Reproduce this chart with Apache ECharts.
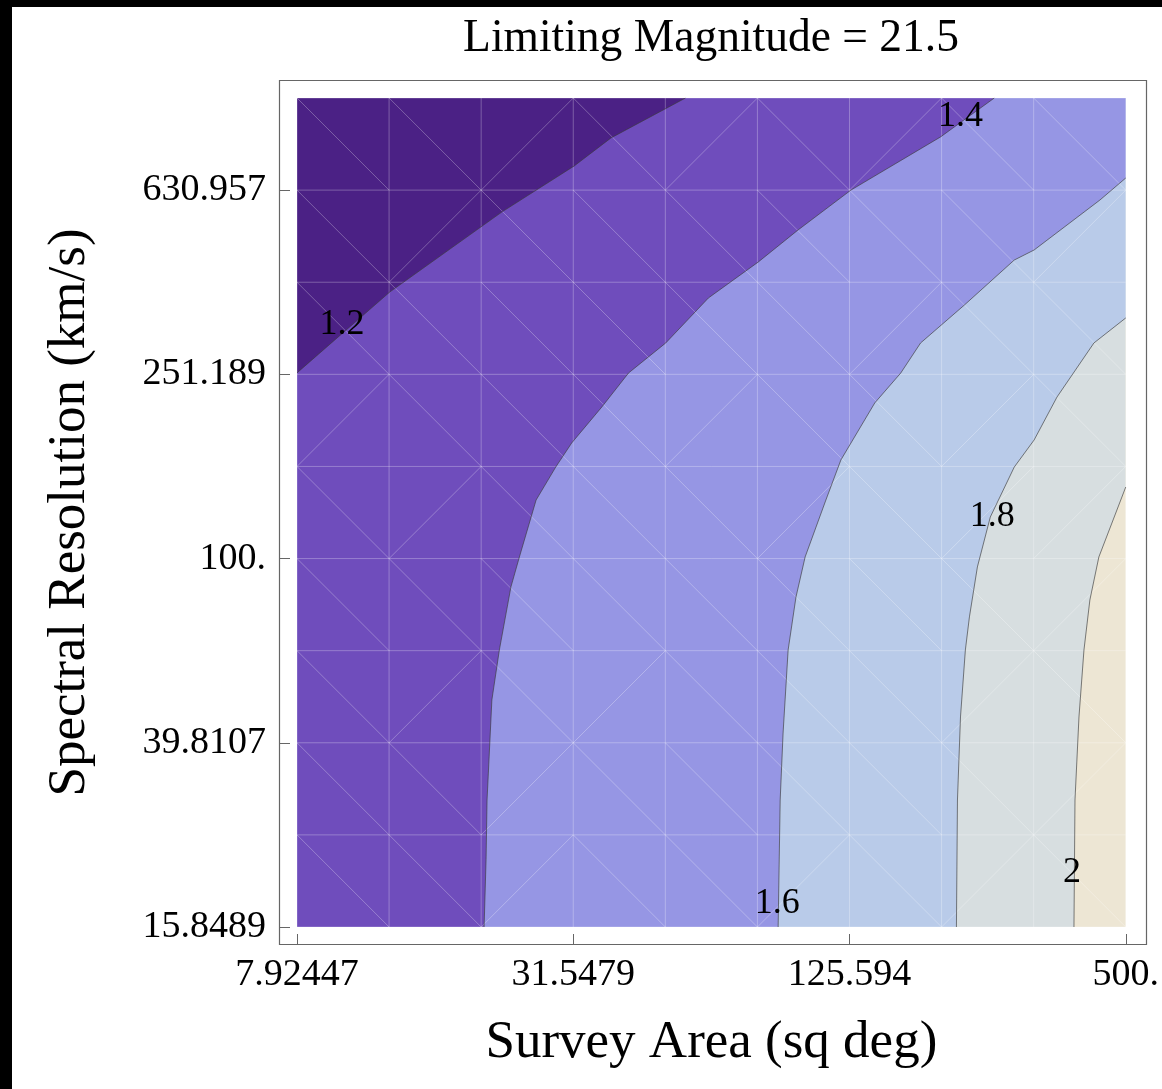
<!DOCTYPE html>
<html>
<head>
<meta charset="utf-8">
<script src="https://cdn.jsdelivr.net/npm/echarts@6/dist/echarts.min.js"></script>
<style>
  html, body { margin: 0; padding: 0; background: #fff; }
  #chart { width: 1162px; height: 1089px; }
</style>
</head>
<body>
<div id="chart"></div>
<script>
// Axis ranges and tick labels (log-scaled survey area and spectral resolution)
const xRange = [7.92447, 500];
const yRange = [15.8489, 1000];
const xTickValues = [7.92447, 31.5479, 125.594, 500];
const xTickLabels = ['7.92447', '31.5479', '125.594', '500.'];
const yTickValues = [15.8489, 39.8107, 100, 251.189, 630.957];
const yTickLabels = ['15.8489', '39.8107', '100.', '251.189', '630.957'];

// Contour lines: [survey area, spectral resolution] along each level
const contourLevels = [1.2, 1.4, 1.6, 1.8, 2.0];
const contour12 = [[7.92447, 253], [12.6, 379], [22.1, 566], [31.7, 712], [38.1, 819], [55.3, 1000]];
const contour14 = [[20.2, 15.8489], [20.4, 22.2], [20.5, 29.9], [21.0, 49.3], [21.8, 63.3], [23.1, 86.8],
  [24.1, 100.8], [26.2, 134], [28.9, 158], [31.3, 178.2], [36.4, 213.4], [41.6, 252.9], [50.1, 293.8],
  [62.0, 367.9], [79.6, 440.5], [97.1, 516.9], [126.5, 631], [198, 823], [259.1, 1000]];
const contour16 = [[87.9, 15.8489], [88.8, 29.9], [90.1, 41.8], [92.4, 63.3], [96.1, 82.5], [100.6, 100.8],
  [111.6, 134], [120.3, 163.7], [142.5, 217.7], [162.3, 252.9], [179.2, 293.8], [223.1, 355.2],
  [286.3, 444.8], [316.2, 467.7], [439.4, 600.4], [500, 670.3]];
const contour18 = [[214.4, 15.8489], [215.5, 29.9], [218.8, 45.3], [224.2, 63.3], [228.8, 74.7], [238.1, 95.9],
  [254, 123.1], [286.3, 158], [316.2, 180.9], [354.6, 224.3], [426.4, 293.8], [500, 333]];
const contour20 = [[385.9, 15.8489], [387.9, 29.9], [395.7, 45.3], [405.7, 63.3], [417.9, 81.3],
  [437.1, 100.8], [500, 143]];

// Contour labels
const contourLabelText = ['1.2', '1.4', '1.6', '1.8', '2'];
const contourLabelX = [9.92, 218.8, 87.5, 256.5, 382.1];
const contourLabelY = [321.4, 909.4, 17.8, 123.1, 20.8];

// Sampling mesh: node positions and the diagonal of each cell (rows from top; b = "\", f = "/")
const meshX = [7.92447, 12.5594, 19.9054, 31.5479, 50.0, 79.2447, 125.594, 199.054, 315.479, 500];
const meshY = [15.8489, 25.1189, 39.8107, 63.0957, 100, 158.489, 251.189, 398.107, 630.957, 1000];
const meshDiagonals = [
  'bbfbfbfbb',
  'bfbbbbbbf',
  'bbbbbbfbb',
  'fbbbfbbfb',
  'bfbbbfbff',
  'bbbbbbbbf',
  'bfbfbbbfb',
  'bbfbbbbbf',
  'bbfbbfbfb'
];

// Band fills from lowest (< 1.2) to highest (> 2)
const bandColors = ['#4b2185', '#6f4dbc', '#9696e4', '#b9cbe9', '#d7dee0', '#ede6d4'];

const contours = [contour12, contour14, contour16, contour18, contour20];
const FONT = '"Liberation Serif", "Times New Roman", serif';

const LX0 = Math.log10(xRange[0]), LX1 = Math.log10(xRange[1]);
const LY0 = Math.log10(yRange[0]), LY1 = Math.log10(yRange[1]);

// Position of a boundary point along the plot perimeter (counter-clockwise from bottom-right)
function perimT(p) {
  const lx = Math.log10(p[0]), ly = Math.log10(p[1]), e = 1e-4;
  if (Math.abs(lx - LX1) < e) return (ly - LY0) / (LY1 - LY0);
  if (Math.abs(ly - LY1) < e) return 1 + (LX1 - lx) / (LX1 - LX0);
  if (Math.abs(lx - LX0) < e) return 2 + (LY1 - ly) / (LY1 - LY0);
  return 3 + (lx - LX0) / (LX1 - LX0);
}
const corners = [[1, [xRange[1], yRange[1]]], [2, [xRange[0], yRange[1]]],
                 [3, [xRange[0], yRange[0]]], [4, [xRange[1], yRange[0]]]];

// Region on the low-value (upper-left) side of a contour, closed along the plot edge
function lowSide(points) {
  const ts = perimT(points[0]);
  const te = perimT(points[points.length - 1]);
  const tEnd = ts <= te ? ts + 4 : ts;
  const extra = [];
  corners.forEach(([t, c]) => {
    [t, t + 4].forEach(tt => { if (tt > te && tt < tEnd) extra.push([tt, c]); });
  });
  extra.sort((a, b) => a[0] - b[0]);
  return points.concat(extra.map(d => d[1]));
}

function labelFor(v, values, labels) {
  let best = 0, bestD = Infinity;
  values.forEach((t, i) => {
    const d = Math.abs(Math.log(v / t));
    if (d < bestD) { bestD = d; best = i; }
  });
  return labels[best];
}

const chart = echarts.init(document.getElementById('chart'), null, { renderer: 'canvas' });

const bandData = bandColors.map((c, i) => [xRange[0], yRange[0], i]);

const series = [
  {
    type: 'custom',
    name: 'bands',
    coordinateSystem: 'cartesian2d',
    silent: true,
    z: 1,
    data: bandData,
    renderItem: function (params, api) {
      const k = api.value(2);
      let poly, color;
      if (k === 0) {
        poly = [[xRange[0], yRange[0]], [xRange[1], yRange[0]], [xRange[1], yRange[1]], [xRange[0], yRange[1]]];
        color = bandColors[5];
      } else {
        poly = lowSide(contours[5 - k]);
        color = bandColors[5 - k];
      }
      return {
        type: 'polygon',
        shape: { points: poly.map(p => api.coord(p)) },
        style: { fill: color, stroke: null }
      };
    }
  },
  {
    type: 'custom',
    name: 'mesh',
    coordinateSystem: 'cartesian2d',
    silent: true,
    z: 2,
    data: [[xRange[0], yRange[0]]],
    renderItem: function (params, api) {
      const children = [];
      const st = { stroke: 'rgba(255,255,255,0.28)', lineWidth: 1 };
      const seg = (a, b) => {
        const p = api.coord(a), q = api.coord(b);
        children.push({ type: 'line', shape: { x1: p[0], y1: p[1], x2: q[0], y2: q[1] }, style: st });
      };
      meshX.forEach(x => seg([x, yRange[0]], [x, yRange[1]]));
      meshY.forEach(y => seg([xRange[0], y], [xRange[1], y]));
      const nRows = meshY.length - 1;
      meshDiagonals.forEach((row, r) => {
        const yTop = meshY[nRows - r], yBot = meshY[nRows - r - 1];
        row.split('').forEach((d, c) => {
          const xl = meshX[c], xr = meshX[c + 1];
          if (d === 'b') seg([xl, yTop], [xr, yBot]);
          else seg([xl, yBot], [xr, yTop]);
        });
      });
      return { type: 'group', children: children };
    }
  }
];

contours.forEach((pts, i) => {
  series.push({
    type: 'line',
    name: 'contour ' + contourLevels[i],
    data: pts,
    symbol: 'none',
    silent: true,
    z: 3,
    lineStyle: { color: 'rgba(60,60,60,0.65)', width: 1 }
  });
});

series.push({
  type: 'scatter',
  name: 'labels',
  silent: true,
  z: 4,
  symbol: 'circle',
  symbolSize: 1,
  itemStyle: { color: 'rgba(0,0,0,0)' },
  data: contourLabelText.map((t, i) => ({ value: [contourLabelX[i], contourLabelY[i]], name: t })),
  label: {
    show: true,
    position: 'inside',
    formatter: '{b}',
    fontFamily: FONT,
    fontSize: 36,
    color: '#000',
    opacity: 1
  },
  labelLayout: { hideOverlap: false }
});

chart.setOption({
  animation: false,
  backgroundColor: '#fff',
  title: {
    text: 'Limiting Magnitude = 21.5',
    left: 706,
    top: 11,
    textAlign: 'center',
    textStyle: { fontFamily: FONT, fontSize: 45.5, fontWeight: 'normal', color: '#000' }
  },
  grid: { left: 297, top: 98, width: 832, height: 829, containLabel: false },
  xAxis: {
    type: 'log',
    logBase: 10,
    min: xRange[0],
    max: xRange[1],
    offset: 18,
    axisLine: { show: false },
    splitLine: { show: false },
    axisTick: { show: true, inside: true, length: 11, customValues: xTickValues,
                lineStyle: { color: '#666', width: 1 } },
    axisLabel: { customValues: xTickValues, formatter: v => labelFor(v, xTickValues, xTickLabels),
                 margin: 11, fontFamily: FONT, fontSize: 38, color: '#000' },
    name: 'Survey Area (sq deg)',
    nameLocation: 'middle',
    nameGap: 72,
    nameTextStyle: { fontFamily: FONT, fontSize: 53, color: '#000' }
  },
  yAxis: {
    type: 'log',
    logBase: 10,
    min: yRange[0],
    max: yRange[1],
    offset: 18,
    axisLine: { show: false },
    splitLine: { show: false },
    axisTick: { show: true, inside: true, length: 11, customValues: yTickValues,
                lineStyle: { color: '#666', width: 1 } },
    axisLabel: { customValues: yTickValues, formatter: v => labelFor(v, yTickValues, yTickLabels),
                 margin: 13, fontFamily: FONT, fontSize: 38, color: '#000' },
    name: 'Spectral Resolution (km/s)',
    nameLocation: 'middle',
    nameRotate: 90,
    nameGap: 182,
    nameTextStyle: { fontFamily: FONT, fontSize: 53, color: '#000' }
  },
  graphic: [
    { type: 'rect', shape: { x: 279.5, y: 80.5, width: 867, height: 864 },
      style: { fill: null, stroke: '#666', lineWidth: 1.2 }, z: 10, silent: true },
    { type: 'rect', shape: { x: 0, y: 0, width: 1162, height: 7 }, style: { fill: '#000' }, z: 10, silent: true },
    { type: 'rect', shape: { x: 0, y: 0, width: 12, height: 1089 }, style: { fill: '#000' }, z: 10, silent: true }
  ],
  series: series
});
</script>
</body>
</html>
